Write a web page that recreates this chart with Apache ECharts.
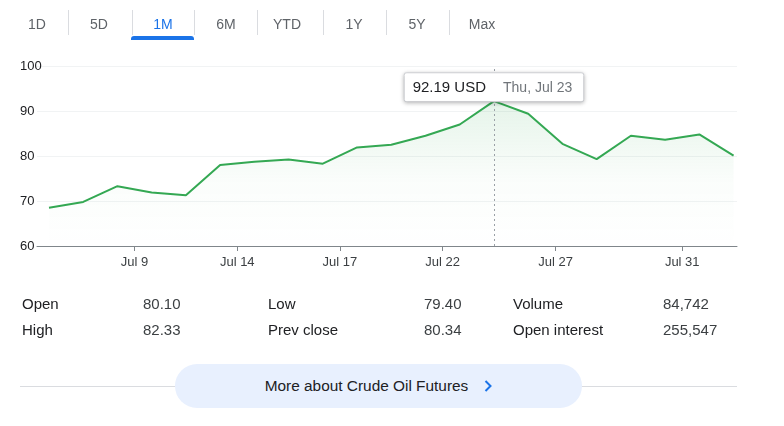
<!DOCTYPE html>
<html>
<head>
<meta charset="utf-8">
<script src="https://cdn.jsdelivr.net/npm/echarts@6/dist/echarts.min.js"></script>
<style>
  html, body { margin: 0; padding: 0; background: #fff; }
  body { width: 784px; height: 426px; position: relative; overflow: hidden; font-family: Arial, "Liberation Sans", sans-serif; }
  #chart { position: absolute; left: 0; top: 0; width: 784px; height: 426px; }
  .tab { position: absolute; top: 15px; font-size: 14px; color: #5f6368; transform: translateX(-50%); line-height: 18px; }
  .tab.on { color: #1a73e8; }
  .sep { position: absolute; top: 10px; width: 1px; height: 25px; background: #dadce0; }
  .bar { position: absolute; left: 131px; top: 36px; width: 63px; height: 4px; background: #1a73e8; border-radius: 3px 3px 0 0; }
  .st { position: absolute; font-size: 15px; line-height: 18px; color: #202124; }
  .st.v { color: #3c4043; }
  .rule { position: absolute; left: 20px; top: 386px; width: 717px; height: 1px; background: #dadce0; }
  .btn { position: absolute; left: 175px; top: 364px; width: 407px; height: 44px; border-radius: 22px; background: #e8f0fe;
         display: flex; align-items: center; justify-content: center; font-size: 15.4px; color: #202124; }
  .btn svg { margin-left: 16px; }
</style>
</head>
<body>
<div id="chart"></div>
<div id="overlay"></div>
<script>
// range tabs
const tabs = ["1D", "5D", "1M", "6M", "YTD", "1Y", "5Y", "Max"];
const tabCenters = [37, 99, 163, 226, 287, 354, 417, 482];
const tabSeps = [68, 132, 194, 257, 323, 386, 449];

// one month of daily closes, Jul 6 - Aug 3
const dates = ["Mon, Jul 6", "Tue, Jul 7", "Wed, Jul 8", "Thu, Jul 9", "Fri, Jul 10",
  "Mon, Jul 13", "Tue, Jul 14", "Wed, Jul 15", "Thu, Jul 16", "Fri, Jul 17",
  "Mon, Jul 20", "Tue, Jul 21", "Wed, Jul 22", "Thu, Jul 23", "Fri, Jul 24",
  "Mon, Jul 27", "Tue, Jul 28", "Wed, Jul 29", "Thu, Jul 30", "Fri, Jul 31", "Mon, Aug 3"];
const prices = [68.5, 69.8, 73.3, 71.9, 71.3, 78.0, 78.7, 79.2, 78.3, 81.9,
  82.5, 84.5, 87.0, 92.19, 89.4, 82.7, 79.3, 84.5, 83.6, 84.8, 80.1];

// x-axis ticks (day boundaries, in trading-day units)
const tickPos = [2.5, 5.5, 8.5, 11.5, 14.8, 18.5];
const tickLabels = ["Jul 9", "Jul 14", "Jul 17", "Jul 22", "Jul 27", "Jul 31"];

const hoverIndex = 13;
const currency = "USD";

// quote stats
const statLabels = [["Open", "High"], ["Low", "Prev close"], ["Volume", "Open interest"]];
const statValues = [["80.10", "82.33"], ["79.40", "80.34"], ["84,742", "255,547"]];
const statLabelX = [22, 268, 513];
const statValueX = [143, 424, 663];
const rowY = [295, 321];

const linkText = "More about Crude Oil Futures";

// ---- page bits around the chart
const ov = document.getElementById("overlay");
let html = "";
tabs.forEach((t, i) => {
  html += `<div class="tab${t === "1M" ? " on" : ""}" style="left:${tabCenters[i]}px">${t}</div>`;
});
tabSeps.forEach(x => { html += `<div class="sep" style="left:${x}px"></div>`; });
html += `<div class="bar"></div>`;
statLabels.forEach((col, c) => {
  col.forEach((lab, r) => {
    html += `<div class="st" style="left:${statLabelX[c]}px;top:${rowY[r]}px">${lab}</div>`;
    html += `<div class="st v" style="left:${statValueX[c]}px;top:${rowY[r]}px">${statValues[c][r]}</div>`;
  });
});
html += `<div class="rule"></div>`;
html += `<div class="btn"><span>${linkText}</span><svg width="8" height="12" viewBox="0 0 8 12"><path d="M1.5 1 L6.5 6 L1.5 11" fill="none" stroke="#1a73e8" stroke-width="2"/></svg></div>`;
ov.innerHTML = html;

// ---- chart
const chart = echarts.init(document.getElementById("chart"));
const seriesData = prices.map((v, i) => [i, v]);
const green = "#34a853";

chart.setOption({
  animation: false,
  grid: { left: 37, right: 47, top: 66, bottom: 180 },
  xAxis: {
    type: "value",
    min: -0.35,
    max: 20.1,
    splitLine: { show: false },
    axisLine: { show: true, lineStyle: { color: "#80868b", width: 1 } },
    axisTick: { show: true, length: 5, customValues: tickPos, lineStyle: { color: "#80868b" } },
    axisLabel: {
      customValues: tickPos,
      margin: 10,
      fontSize: 13,
      color: "#3c4043",
      fontFamily: "Arial",
      formatter: v => tickLabels[tickPos.indexOf(v)]
    }
  },
  yAxis: {
    type: "value",
    min: 60,
    max: 100,
    interval: 10,
    axisLine: { show: false },
    axisTick: { show: false },
    splitLine: { lineStyle: { color: "#f1f3f4", width: 1 } },
    axisLabel: { align: "left", margin: 17, fontSize: 13, color: "#202124", fontFamily: "Arial" }
  },
  series: [{
    type: "line",
    data: seriesData,
    symbol: "none",
    lineStyle: { color: green, width: 2 },
    areaStyle: {
      color: new echarts.graphic.LinearGradient(0, 0, 0, 1, [
        { offset: 0, color: "rgba(52,168,83,0.18)" },
        { offset: 0.55, color: "rgba(52,168,83,0.03)" },
        { offset: 1, color: "rgba(52,168,83,0)" }
      ])
    },
    markLine: {
      silent: true,
      symbol: "none",
      label: { show: false },
      lineStyle: { color: "#9aa0a6", type: [2, 3], width: 1 },
      data: [{ xAxis: hoverIndex }]
    },
    markPoint: {
      silent: true,
      symbol: "circle",
      symbolSize: 0,
      data: [{ coord: [hoverIndex, prices[hoverIndex]] }],
      label: {
        show: true,
        position: "top",
        distance: 0,
        backgroundColor: "#fff",
        borderColor: "#dadce0",
        borderWidth: 1,
        borderRadius: 2,
        padding: [7, 11, 6, 8],
        shadowBlur: 4,
        shadowOffsetY: 1,
        shadowColor: "rgba(0,0,0,0.22)",
        formatter: () => `{v|${prices[hoverIndex].toFixed(2)} ${currency}}{d|${dates[hoverIndex]}}`,
        rich: {
          v: { fontSize: 15, color: "#202124", fontFamily: "Arial", padding: [0, 17, 0, 0] },
          d: { fontSize: 14, color: "#70757a", fontFamily: "Arial" }
        }
      }
    }
  }]
});
</script>
</body>
</html>
